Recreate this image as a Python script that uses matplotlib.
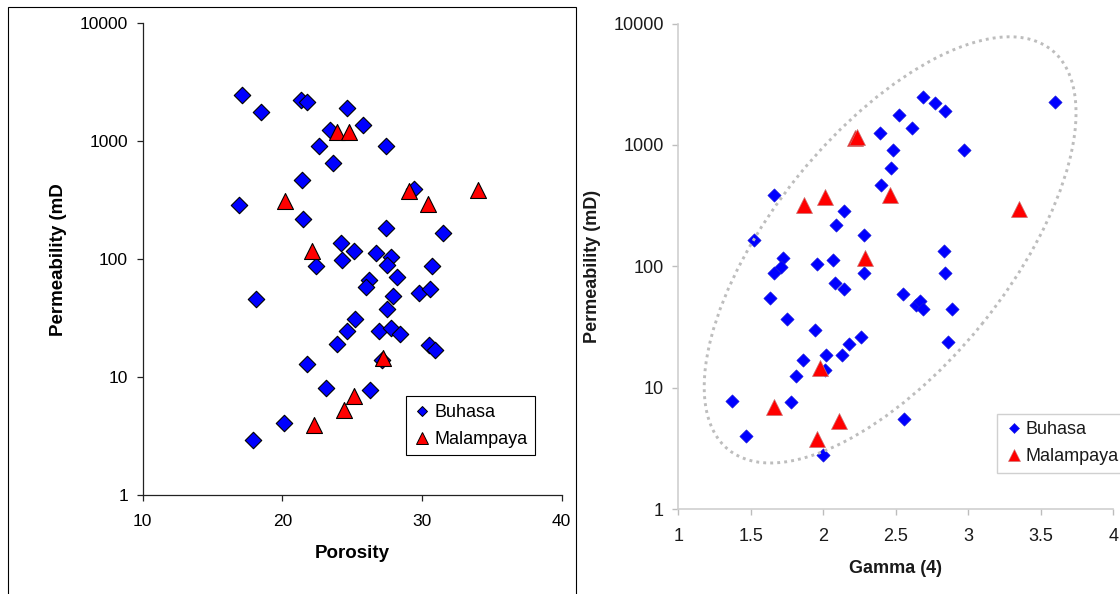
import matplotlib
matplotlib.use('Agg')
import matplotlib.pyplot as plt
from matplotlib.lines import Line2D
from matplotlib.patches import Ellipse, Rectangle
from matplotlib.transforms import ScaledTranslation
from matplotlib.ticker import NullLocator

plt.rcParams['font.family'] = ['Liberation Sans', 'DejaVu Sans']

# left panel: porosity vs permeability
buhasa_por = [17.1, 18.5, 21.3, 21.8, 24.6, 25.8, 23.4, 22.6, 27.4, 23.6,
              21.4, 16.9, 21.5, 29.4, 27.4, 31.5, 24.2, 25.1, 24.3, 22.4,
              26.7, 27.8, 27.5, 30.7, 28.2, 26.2, 26.0, 27.9, 27.5, 29.8,
              30.6, 18.1, 25.2, 24.6, 26.9, 27.8, 28.4, 23.9, 30.5, 30.9,
              21.8, 27.1, 23.1, 26.3, 20.1, 17.9]
buhasa_perm_l = [2450, 1770, 2240, 2170, 1900, 1380, 1240, 915, 910, 650,
                 470, 290, 220, 390, 184, 165, 137, 117, 99, 87,
                 113, 105, 90, 88, 71, 66, 58, 49, 38, 52,
                 56, 46, 31, 24.5, 24.5, 26, 23.3, 19, 18.8, 17,
                 12.8, 14, 8.0, 7.8, 4.1, 2.9]
malam_por = [23.9, 24.8, 20.2, 29.1, 30.4, 34.0, 22.1, 27.2, 25.1, 24.4, 22.3]
malam_perm_l = [1190, 1190, 313, 375, 294, 385, 117, 14.6, 6.9, 5.3, 3.9]

# right panel: gamma(4) vs permeability
buhasa_gamma = [2.69, 2.77, 2.84, 3.60, 2.52, 2.61, 2.39, 2.48, 2.97, 2.47,
                2.40, 1.66, 2.14, 2.09, 1.52, 2.28, 2.83, 1.72, 1.71, 1.66,
                1.96, 2.07, 2.28, 2.84, 2.08, 2.14, 1.63, 2.55, 2.64, 2.67,
                2.69, 2.89, 1.75, 1.94, 2.26, 2.18, 2.86, 2.13, 2.02, 1.86,
                1.81, 2.01, 1.37, 1.78, 1.47, 2.56, 2.00]
buhasa_perm_r = [2490, 2200, 1910, 2270, 1760, 1370, 1260, 910, 910, 645,
                 470, 390, 288, 221, 165, 183, 135, 117, 98, 88,
                 104, 113, 89, 88, 73, 65, 55, 59, 48, 52,
                 45, 45, 37, 30, 26, 23, 24, 18.7, 18.5, 17,
                 12.6, 14, 7.8, 7.6, 4.0, 5.5, 2.8]
malam_gamma = [2.22, 2.23, 2.01, 1.87, 2.46, 3.35, 2.29, 1.98, 1.66, 2.11, 1.96]
malam_perm_r = [1150, 1170, 370, 320, 390, 298, 117, 14.7, 6.9, 5.3, 3.8]

perm_ticks = [1, 10, 100, 1000, 10000]
perm_labels = ['1', '10', '100', '1000', '10000']
por_ticks = [10, 20, 30, 40]
gamma_ticks = [1, 1.5, 2, 2.5, 3, 3.5, 4]
gamma_labels = ['1', '1.5', '2', '2.5', '3', '3.5', '4']

fig = plt.figure(figsize=(11.2, 5.94), dpi=100)

# frame around the left chart
fig.patches.append(Rectangle((8 / 1120, -0.1), 567.5 / 1120, 1.1 - 6.7 / 594,
                             transform=fig.transFigure, fill=False,
                             ec='black', lw=0.8))

# ---- left chart
ax1 = fig.add_axes([0.1274, 0.1667, 0.3741, 0.7941])
ax1.scatter(buhasa_por, buhasa_perm_l, marker='D', s=8.4 ** 2, c='#0000ff',
            edgecolors='black', linewidths=0.8, zorder=3)
ax1.scatter(malam_por, malam_perm_l, marker='^', s=11.5 ** 2, c='#ff0000',
            edgecolors='black', linewidths=0.8, zorder=4)
ax1.set_yscale('log')
ax1.set_xlim(10, 40)
ax1.set_ylim(1, 10000)
ax1.set_yticks(perm_ticks)
ax1.set_yticklabels(perm_labels)
ax1.yaxis.set_minor_locator(NullLocator())
ax1.set_xticks(por_ticks)
ax1.set_xticklabels([str(t) for t in por_ticks])
for s in ['top', 'right']:
    ax1.spines[s].set_visible(False)
for s in ['left', 'bottom']:
    ax1.spines[s].set_color('#222222')
    ax1.spines[s].set_linewidth(0.9)
ax1.tick_params(direction='out', length=4.5, width=0.9, color='#222222',
                labelsize=12.5, pad=6)
ax1.tick_params(axis='x', pad=9)
ax1.set_xlabel('Porosity', fontsize=13.5, fontweight='bold', labelpad=12)
ax1.set_ylabel('Permeability (mD', fontsize=13.5, fontweight='bold', labelpad=9)

h1 = [Line2D([], [], ls='none', marker='D', ms=4.8, mfc='#0000ff', mec='black', mew=0.7),
      Line2D([], [], ls='none', marker='^', ms=8, mfc='#ff0000', mec='black', mew=0.7)]
ax1.legend(h1, ['Buhasa', 'Malampaya'], loc='upper left', bbox_to_anchor=(0.628, 0.209),
           borderaxespad=0, fontsize=13, frameon=True, fancybox=False,
           edgecolor='black', framealpha=1, handlelength=1.0, handletextpad=0.15,
           borderpad=0.42, labelspacing=0.55).get_frame().set_linewidth(0.8)

# ---- right chart
ax2 = fig.add_axes([0.6056, 0.1426, 0.3884, 0.8178])
ax2.scatter(buhasa_gamma, buhasa_perm_r, marker='D', s=6.8 ** 2, c='#0000ff',
            edgecolors='#2020d0', linewidths=0.4, zorder=3)
ax2.scatter(malam_gamma, malam_perm_r, marker='^', s=11.5 ** 2, c='#ff0000',
            edgecolors='#c87070', linewidths=0.5, zorder=4)
ax2.set_yscale('log')
ax2.set_xlim(1, 4)
ax2.set_ylim(1, 10000)
ax2.set_yticks(perm_ticks)
ax2.set_yticklabels(perm_labels)
ax2.yaxis.set_minor_locator(NullLocator())
ax2.set_xticks(gamma_ticks)
ax2.set_xticklabels(gamma_labels)
for s in ['top', 'right']:
    ax2.spines[s].set_visible(False)
for s in ['left', 'bottom']:
    ax2.spines[s].set_color('#cfcfcf')
    ax2.spines[s].set_linewidth(1.2)
ax2.tick_params(direction='out', length=4.5, width=1.0, color='#bdbdbd',
                labelsize=13, labelcolor='#1a1a1a', pad=6)
ax2.tick_params(axis='x', pad=9)
ax2.set_xlabel('Gamma (4)', fontsize=13, fontweight='bold', color='#1a1a1a', labelpad=11)
ax2.set_ylabel('Permeability (mD)', fontsize=13, fontweight='bold', color='#1a1a1a', labelpad=9)

# dotted ellipse around the data (size in inches, centre in axes fraction)
ell = Ellipse((0, 0), 5.14, 2.36, angle=51.0, fill=False, ec='#bdbdbd', lw=2.1,
              ls=(0, (1, 1.4)), clip_on=False, zorder=5,
              transform=fig.dpi_scale_trans + ScaledTranslation(0.487, 0.534, ax2.transAxes))
ax2.add_patch(ell)

h2 = [Line2D([], [], ls='none', marker='D', ms=4.8, mfc='#0000ff', mec='#2020d0', mew=0.4),
      Line2D([], [], ls='none', marker='^', ms=8, mfc='#ff0000', mec='#c87070', mew=0.4)]
leg2 = ax2.legend(h2, ['Buhasa', 'Malampaya'], loc='upper left', bbox_to_anchor=(0.733, 0.197),
                  borderaxespad=0, fontsize=13, frameon=True, fancybox=False,
                  edgecolor='#d0d0d0', framealpha=1, handlelength=1.0, handletextpad=0.15,
                  borderpad=0.42, labelspacing=0.55)
leg2.get_frame().set_linewidth(1.0)
for t in leg2.get_texts():
    t.set_color('#1a1a1a')

fig.savefig('out.png', dpi=100)
